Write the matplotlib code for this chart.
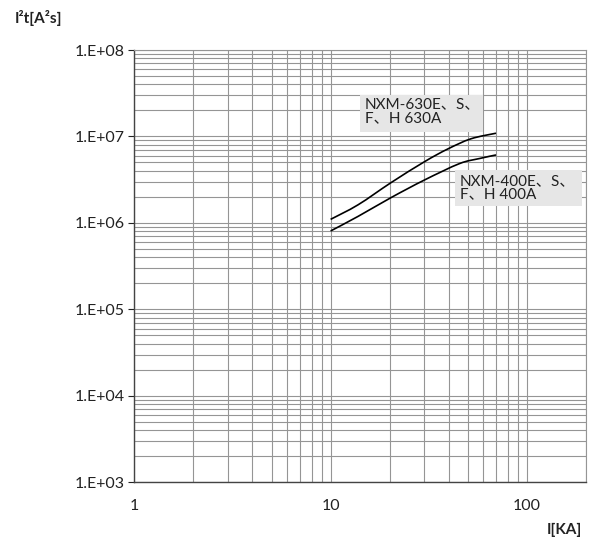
import matplotlib
matplotlib.use("Agg")
import matplotlib.pyplot as plt
from matplotlib.ticker import FixedLocator, NullFormatter, LogLocator
from matplotlib.patches import Rectangle, PathPatch
from matplotlib.path import Path
import numpy as np

# Data
current_630 = [10, 13.8, 20.3, 30.1, 39.5, 51.9, 69.6]
i2t_630 = [1.10e6, 1.62e6, 2.92e6, 5.11e6, 7.16e6, 9.40e6, 1.09e7]
current_400 = [10, 13.8, 20.3, 30.1, 45.3, 57.2, 69.6]
i2t_400 = [8.07e5, 1.19e6, 1.96e6, 3.14e6, 4.85e6, 5.55e6, 6.11e6]
label_630 = "NXM-630E、S、\nF、H 630A"
label_400 = "NXM-400E、S、\nF、H 400A"
y_ticks = [1e3, 1e4, 1e5, 1e6, 1e7, 1e8]
y_ticklabels = ["1.E+03", "1.E+04", "1.E+05", "1.E+06", "1.E+07", "1.E+08"]
x_ticks = [1, 10, 100]
x_ticklabels = ["1", "10", "100"]

FAM = ["Lato", "Noto Sans CJK SC", "DejaVu Sans"]
plt.rcParams['font.family'] = FAM

W, H = 592, 542
fig = plt.figure(figsize=(W / 100, H / 100), dpi=100)
ax = fig.add_axes([134.3 / W, 1 - 482.3 / H, (586 - 134.3) / W, (482.3 - 50) / H])
ax.set_xscale('log')
ax.set_yscale('log')
ax.set_xlim(1, 200)
ax.set_ylim(1e3, 1e8)

ax.xaxis.set_major_locator(FixedLocator(x_ticks))
ax.set_xticklabels(x_ticklabels)
ax.yaxis.set_major_locator(FixedLocator(y_ticks))
ax.set_yticklabels(y_ticklabels)
ax.xaxis.set_minor_locator(LogLocator(base=10, subs=np.arange(2, 10), numticks=20))
ax.yaxis.set_minor_locator(LogLocator(base=10, subs=np.arange(2, 10), numticks=20))
ax.xaxis.set_minor_formatter(NullFormatter())
ax.yaxis.set_minor_formatter(NullFormatter())

ax.grid(True, which='both', color='#959595', linewidth=0.8)
ax.set_axisbelow(True)

ax.tick_params(axis='x', which='both', length=0, pad=12, labelsize=11.5, colors='#222222')
ax.tick_params(axis='y', which='major', length=4, width=0.8, pad=3, labelsize=11.5, colors='#222222')
ax.tick_params(axis='y', which='minor', length=0)

for s in ['top', 'right']:
    ax.spines[s].set_color('#959595')
    ax.spines[s].set_linewidth(0.8)
for s in ['left', 'bottom']:
    ax.spines[s].set_color('#444444')
    ax.spines[s].set_linewidth(1.0)


def smooth_path(xs, ys):
    """Catmull-Rom through the points in log space, as cubic Bezier segments."""
    P = np.column_stack([np.log10(xs), np.log10(ys)])
    n = len(P)
    verts = [P[0]]
    codes = [Path.MOVETO]
    for i in range(n - 1):
        p0 = P[i - 1] if i > 0 else P[i]
        p1 = P[i]
        p2 = P[i + 1]
        p3 = P[i + 2] if i + 2 < n else P[i + 1]
        c1 = p1 + (p2 - p0) / 6.0
        c2 = p2 - (p3 - p1) / 6.0
        verts += [c1, c2, p2]
        codes += [Path.CURVE4] * 3
    return Path(10 ** np.array(verts), codes)


for xs, ys in [(current_630, i2t_630), (current_400, i2t_400)]:
    ax.add_patch(PathPatch(smooth_path(xs, ys), facecolor='none', edgecolor='black',
                           linewidth=1.2, capstyle='butt'))

# label boxes (pixel layout)
def px_box(x0, y0, x1, y1):
    fig.patches.append(Rectangle((x0 / W, 1 - y1 / H), (x1 - x0) / W, (y1 - y0) / H,
                                 transform=fig.transFigure, facecolor='#e6e6e6',
                                 edgecolor='none', zorder=3))

px_box(360, 95.3, 483.3, 132.3)
px_box(455, 169.7, 581.7, 206.3)
fig.text(365 / W, 1 - 97.5 / H, label_630, fontsize=11, color='#222222', va='top', ha='left',
         linespacing=0.95, family=FAM, zorder=4)
fig.text(460 / W, 1 - 174 / H, label_400, fontsize=11, color='#222222', va='top', ha='left',
         linespacing=0.95, family=FAM, zorder=4)

fig.text(15 / W, 1 - 18 / H, "I²t[A²s]", fontsize=11, fontweight='bold', va='center', ha='left', color='#222222')
fig.text(582 / W, 1 - 530 / H, "I[KA]", fontsize=11, fontweight='bold', va='center', ha='right', color='#222222')

fig.savefig("out.png", dpi=100)
